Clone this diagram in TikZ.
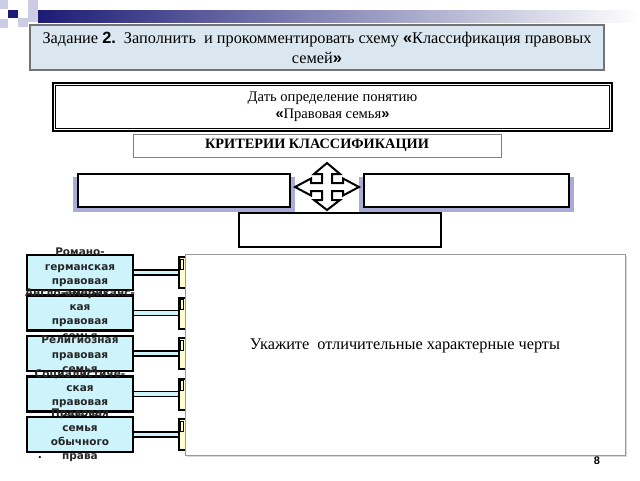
\documentclass[tikz,border=0pt]{standalone}
\usepackage{fontspec}
\setmainfont{Liberation Serif}
\setsansfont{Liberation Sans}
\newfontfamily\boxfont{DejaVu Sans}
\usetikzlibrary{                          % TikZ libraries
                positioning,              % .
                calc,                     % .
                shadows}
\usepackage{xcolor}
\definecolor{navyblue}{RGB}{28,28,118}
\definecolor{lavender}{RGB}{204,204,228}
\definecolor{titlefill}{RGB}{218,231,240}
\definecolor{famcyan}{RGB}{204,244,250}
\definecolor{paleyellow}{RGB}{255,255,208}
\definecolor{glowblue}{RGB}{135,135,200}

\begin{document}
\begin{tikzpicture}[x=1pt,y=-1pt
                    ]
                % define styles
\tikzset{titlebox/.style={rectangle,
                       draw=gray!90!black,
                       fill=titlefill,
                       line width=1.3pt,
                       minimum width=574,
                       minimum height=45,
                       inner sep=0,
                       },
         blank/.style={rectangle,
                       draw=black,
                       fill=white,
                       line width=1.8pt,
                       inner sep=0,
                       },
         glow/.style={general shadow={shadow scale=1.05,
                       shadow yshift=-4pt,
                       fill=glowblue,
                       opacity=.7}},
         fambox/.style={rectangle,
                       draw=black,
                       fill=famcyan,
                       line width=2.4pt,
                       minimum width=106,
                       minimum height=35,
                       inner sep=0,
                       },
         famtext/.style={text width=130,
                       align=center,
                       inner sep=0,
                       font=\boxfont\bfseries\fontsize{10.5}{14.3}\selectfont,
                       text=black!85,
                       },
         hidden/.style={rectangle,
                       draw=black,
                       fill=paleyellow,
                       line width=2pt,
                       minimum width=60,
                       minimum height=31,
                       anchor=west,
                       inner sep=0,
                       },
         pipe/.style={draw=black,
                       line width=1.7pt,
                       double=famcyan,
                       double distance=3.2pt,
                       }
}

% background decoration
\useasboundingbox (0,0) rectangle (640,480);
\fill[lavender] (0,0) rectangle (8,9);
\fill[lavender] (28,0) rectangle (38,10);
\fill[lavender] (28,10) rectangle (38,22);
\fill[lavender] (18,18) rectangle (28,27);
\fill[lavender] (0,19) rectangle (8,28);
\fill[navyblue] (8,10) rectangle (18,18);
\shade[left color=navyblue, right color=white] (38,10) rectangle (640,22);

% title
\node[titlebox,align=center,font=\fontsize{16.3}{20}\selectfont] (title) at (317,47.5)
    {Задание {\sffamily\bfseries 2.}\ \ Заполнить\ \ и прокомментировать схему {\sffamily\bfseries «}Классификация правовых\\семей{\sffamily\bfseries »}};

% definition box
\node[rectangle,draw=black,line width=2.5pt,minimum width=559,minimum height=48,align=center,
      font=\fontsize{14.6}{17}\selectfont] (def) at (332.5,107)
    {Дать определение понятию\\{\sffamily\bfseries «}Правовая семья{\sffamily\bfseries »}};
\draw[line width=0.7pt] ($(def.north west)+(3.5,3.5)$) rectangle ($(def.south east)+(-3.5,-3.5)$);

% criteria
\node[rectangle,draw=gray,line width=0.8pt,minimum width=368,minimum height=23,
      font=\bfseries\fontsize{14.3}{15}\selectfont] (crit) at (317,145.5) {КРИТЕРИИ КЛАССИФИКАЦИИ};

\node[blank,glow,minimum width=212,minimum height=33] (lb) at (184,190.5) {};
\node[blank,glow,minimum width=205,minimum height=33] (rb) at (466.5,190.5) {};
\node[blank,minimum width=202,minimum height=34] (bb) at (340,230) {};

% four-way arrow
\coordinate (cross) at (327,187);
\begin{scope}[shift=(cross)]
    \draw[line width=2pt,fill=white,line join=miter]
        (0,-24) -- (13,-13) -- (5,-13) -- (5,-4) -- (16,-4) -- (16,-8.5) -- (32,0) --
        (16,8.5) -- (16,4) -- (5,4) -- (5,13) -- (13,13) -- (0,23) --
        (-13,13) -- (-5,13) -- (-5,4) -- (-16,4) -- (-16,8.5) -- (-32,0) --
        (-16,-8.5) -- (-16,-4) -- (-5,-4) -- (-5,-13) -- (-13,-13) -- cycle;
\end{scope}

% boxes on the right, mostly hidden
\foreach \i/\yy in {1/272.5, 2/313, 3/353.5, 4/394, 5/434.5}
{
    \node[hidden] (r\i) at (178,\yy) {};
    \draw[line width=0.6pt] ($(r\i.north west)+(2.5,3)$) rectangle +(3,10);
}

% answer box
\node[rectangle,draw=gray!80,line width=1pt,fill=white,minimum width=440,minimum height=201,
      drop shadow={shadow xshift=1.5pt,shadow yshift=-1.5pt,fill=gray!50,opacity=.6}] (big) at (405,354.5) {};
\node[font=\fontsize{16.3}{18}\selectfont] (hint) at (405,346) {Укажите\ \ отличительные характерные черты};

% families
\foreach \i/\yy/\txt in {1/272.5/{Романо-\\германская\\правовая\\семья},
                         2/313/{Англо-американс-\\кая\\правовая\\семья},
                         3/353.5/{Религиозная\\правовая\\семья},
                         4/394/{Социалистиче-\\ская\\правовая\\семья},
                         5/434.5/{Правовая\\семья\\обычного\\права}}
{
    \node[fambox] (f\i) at (80,\yy) {};
    \node[famtext] (t\i) at ($(f\i)+(0,1)$) {\txt};
    \draw[pipe] (f\i.east) -- (r\i.west);
}

% labels
\node[font=\fontsize{9}{9}\selectfont] (bullet) at (40,458) {•};
\node[font=\sffamily\bfseries\fontsize{11}{11}\selectfont] (pnum) at (597,461) {8};

            \end{tikzpicture}
\end{document}
